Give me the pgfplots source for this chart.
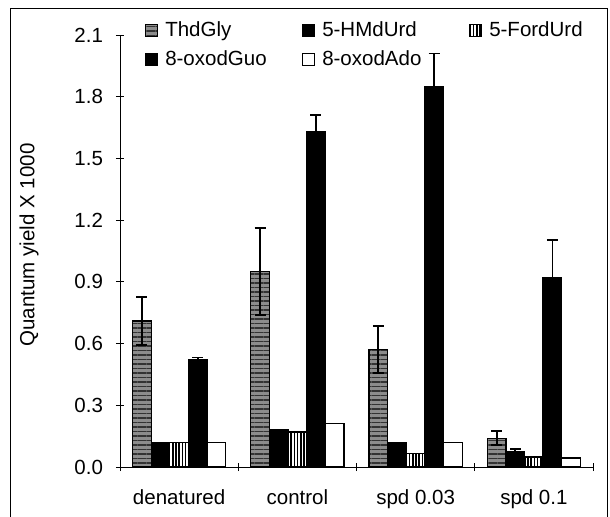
\documentclass[border=0pt]{standalone}
\usepackage{fontspec}
\setmainfont{Liberation Sans}
\usepackage{pgfplots}
\pgfplotsset{compat=1.18}
\usetikzlibrary{patterns.meta}
% x positions: category index + bar offset (one bar = 0.1573 category widths)
\pgfplotstableread{
x y e
-0.315 0.71 0.117
0.685 0.95 0.21
1.685 0.57 0.115
2.685 0.14 0.035
}\thd
\pgfplotstableread{
x y
-0.157 0.12
0.843 0.18
1.843 0.12
}\hmd
\pgfplotstableread{
x y e
2.843 0.073 0.014
}\hmdb
\pgfplotstableread{
x y
0 0.12
1 0.17
2 0.065
3 0.049
}\ford
\pgfplotstableread{
x y e
0.157 0.52 0.012
1.157 1.63 0.08
2.157 1.85 0.16
3.157 0.92 0.185
}\guo
\pgfplotstableread{
x y
0.315 0.12
1.315 0.21
2.315 0.12
3.315 0.044
}\ado
\begin{document}
\fontsize{20.5bp}{24bp}\selectfont
\begin{tikzpicture}
\useasboundingbox (0,0) rectangle (610bp,517bp);
\begin{axis}[
  at={(120bp,50bp)}, anchor=south west,
  scale only axis, width=473bp, height=432bp,
  xmin=-0.5, xmax=3.5, ymin=0, ymax=2.1,
  axis x line=bottom, axis y line=left,
  axis line style={-, line width=0.8bp},
  ytick={0,0.3,0.6,0.9,1.2,1.5,1.8,2.1},
  /pgf/number format/assume math mode=true,
  yticklabel style={xshift=-6bp, /pgf/number format/fixed, /pgf/number format/fixed zerofill, /pgf/number format/precision=1},
  xtick={-0.5,0.5,1.5,2.5,3.5},
  x tick label as interval,
  xticklabels={denatured,control,spd 0.03,spd 0.1},
  xticklabel style={yshift=-12bp},
  tick align=center, major tick length=8bp,
  tick style={line width=0.8bp, black},
  ylabel={Quantum yield X 1000},
  ylabel style={at={(axis description cs:-0.192,0.514)}, anchor=center},
  clip=false,
  legend columns=3,
  legend cell align=left,
  legend style={at={(axis description cs:0.053,1.036)}, anchor=north west,
    draw=none, fill=none, inner sep=0pt, row sep=7bp,
    nodes={inner xsep=7bp, inner ysep=2bp}},
  legend image code/.code={\draw[#1, line width=1bp] (0bp,-6bp) rectangle (12bp,6bp);},
  every axis plot/.append style={ybar, bar width=18.6bp, bar shift=0pt, draw=black, line width=1.3bp},
  eb/.style={error bars/y dir=both, error bars/y explicit,
    error bars/error bar style={line width=1.8bp, black},
    error bars/error mark options={rotate=90, line width=1.8bp, mark size=5.5bp, black}},
]
\addplot[eb, fill=black!45,
  postaction={pattern={Lines[angle=0,distance=4.5bp,line width=1.3bp]}, pattern color=black!80}]
  table[x=x,y=y,y error=e]{\thd};
\addplot[fill=black]
  table[x=x,y=y]{\hmd};
\addplot[fill=white,
  postaction={pattern={Lines[angle=90,distance=3.2bp,line width=1.5bp]}, pattern color=black}]
  table[x=x,y=y]{\ford};
\addplot[eb, fill=black]
  table[x=x,y=y,y error=e]{\guo};
\addplot[fill=white]
  table[x=x,y=y]{\ado};
\addplot[eb, fill=black, forget plot]
  table[x=x,y=y,y error=e]{\hmdb};
\legend{\makebox[130bp][l]{ThdGly},\makebox[140bp][l]{5-HMdUrd},5-FordUrd,\makebox[130bp][l]{8-oxodGuo},\makebox[140bp][l]{8-oxodAdo}}
\end{axis}
\draw[line width=1bp] (10bp,0bp) -- (10bp,508bp) -- (607bp,508bp) -- (607bp,0bp);
\end{tikzpicture}
\end{document}
